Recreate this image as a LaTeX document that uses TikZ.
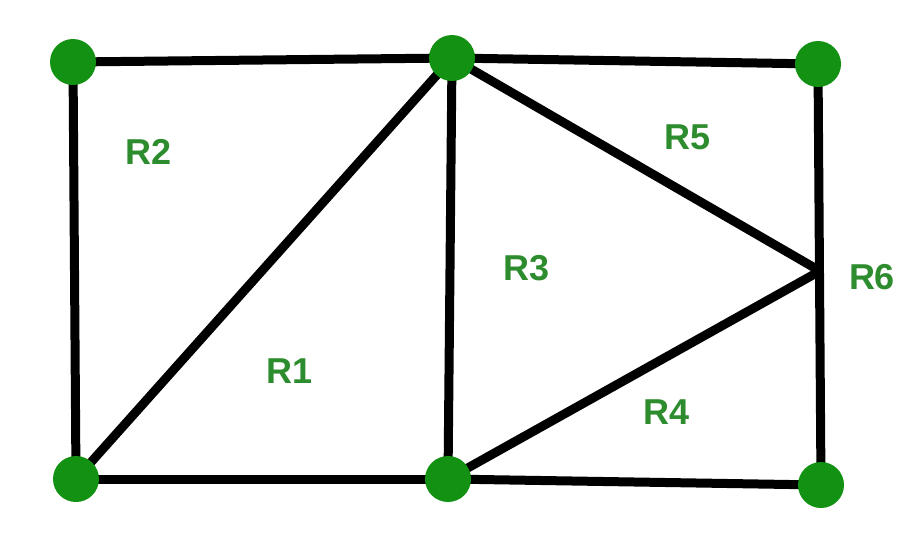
\documentclass[tikz,border=0pt]{standalone}
\usepackage{fontspec}
\setmainfont{Liberation Sans}
\definecolor{dotgreen}{RGB}{18,145,18}
\definecolor{labgreen}{RGB}{45,140,45}
\begin{document}
\begin{tikzpicture}[x=1pt,y=-1pt,
  vtx/.style={circle,fill=dotgreen,minimum size=46pt,inner sep=0pt},
  edge/.style={line width=9pt,black},
  lab/.style={text=labgreen,font=\fontsize{36}{36}\selectfont\bfseries,inner sep=0pt}]
\useasboundingbox (0,0) rectangle (921,544);
\coordinate (tl) at (73,62);
\coordinate (tm) at (452,58);
\coordinate (tr) at (818,64);
\coordinate (bl) at (76,479);
\coordinate (bm) at (448,479);
\coordinate (br) at (821,485);
\coordinate (j) at (820,271);
\draw[edge] (tl) -- (tm);
\draw[edge] (tm) -- (tr);
\draw[edge] (tl) -- (bl);
\draw[edge] (bl) -- (tm);
\draw[edge] (tm) -- (bm);
\draw[edge] (tm) -- (j);
\draw[edge] (bm) -- (j);
\draw[edge] (tr) -- (br);
\draw[edge] (bl) -- (bm);
\draw[edge] (bm) -- (br);
\node[vtx] (ntl) at (tl) {};
\node[vtx] (ntm) at (tm) {};
\node[vtx] (ntr) at (tr) {};
\node[vtx] (nbl) at (bl) {};
\node[vtx] (nbm) at (bm) {};
\node[vtx] (nbr) at (br) {};
\node[lab] (r2) at (149,152) {R2};
\node[lab] (r5) at (688,137) {R5};
\node[lab] (r3) at (527,268) {R3};
\node[lab] (r6) at (872,277) {R6};
\node[lab] (r1) at (290,371) {R1};
\node[lab] (r4) at (667,412) {R4};
\end{tikzpicture}
\end{document}
